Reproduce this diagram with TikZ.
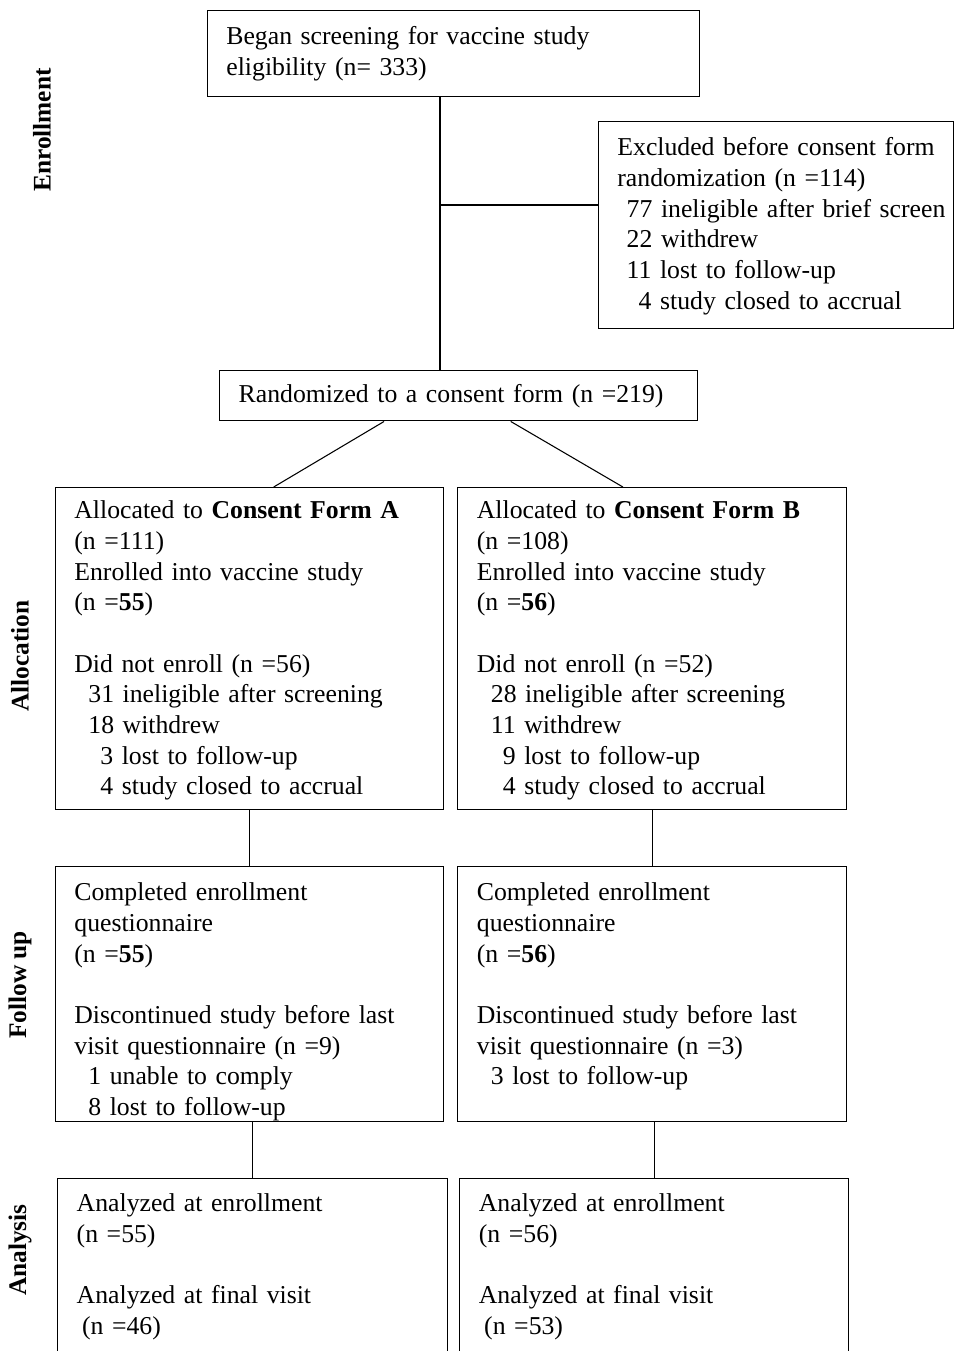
\documentclass[tikz,border=0pt]{standalone}
\usepackage{fontspec}
\setmainfont{Liberation Serif}
\usetikzlibrary{positioning}

\begin{document}
\begin{tikzpicture}[
  x=0.75pt,y=-0.75pt,
  box/.style={draw,line width=1.1pt,anchor=north west,align=left,
              inner xsep=14pt,inner ysep=0pt,
              font=\fontsize{19.3}{23}\selectfont},
  stage/.style={rotate=90,font=\fontsize{19}{22}\selectfont\bfseries},
  link/.style={line width=0.8pt}
]

  % page frame
  \clip (0,0) rectangle (955,1351);

  %% ===== ENROLLMENT =====
  \node[box,minimum width=369pt,text width=341pt,text height=25.5pt,text depth=39pt] (began) at (207,10)
    {Began screening for vaccine study\\eligibility (n= 333)};

  \node[box,minimum width=266pt,text width=238pt,text height=25.5pt,text depth=129.75pt] (excl) at (598,121)
    {Excluded before consent form\\randomization (n =114)\\
     \hspace*{7pt}\mbox{77 ineligible after brief screen}\\
     \hspace*{7pt}22 withdrew\\
     \hspace*{7pt}11 lost to follow-up\\
     \hspace*{16pt}4 study closed to accrual};

  \node[box,minimum width=358.5pt,text width=330pt,text height=24pt,text depth=13.5pt] (rand) at (219,370)
    {Randomized to a consent form (n =219)};

  % spine and side branch
  \coordinate (spine) at (440,205);
  \draw[link] (began.south -| spine) -- (rand.north -| spine);
  \draw[link] (spine) -- (spine -| excl.west);

  %% ===== ALLOCATION =====
  \node[box,minimum width=291pt,text width=263pt,text height=23.25pt,text depth=218.25pt] (allocA) at (55,487)
    {Allocated to \textbf{Consent Form A}\\(n =111)\\
     Enrolled into vaccine study\\(n =\textbf{55})\\[23pt]
     Did not enroll (n =56)\\
     \hspace*{10.5pt}31 ineligible after screening\\
     \hspace*{10.5pt}18 withdrew\\
     \hspace*{19.5pt}3 lost to follow-up\\
     \hspace*{19.5pt}4 study closed to accrual};

  \node[box,minimum width=291.75pt,text width=263pt,text height=23.25pt,text depth=218.25pt] (allocB) at (457,487)
    {Allocated to \textbf{Consent Form B}\\(n =108)\\
     Enrolled into vaccine study\\(n =\textbf{56})\\[23pt]
     Did not enroll (n =52)\\
     \hspace*{10.5pt}28 ineligible after screening\\
     \hspace*{10.5pt}11 withdrew\\
     \hspace*{19.5pt}9 lost to follow-up\\
     \hspace*{19.5pt}4 study closed to accrual};

  \draw[link] ([xshift=-56pt]rand.south) -- ([xshift=18pt]allocA.north);
  \draw[link] ([xshift=39pt]rand.south) -- ([xshift=-22pt]allocB.north);

  %% ===== FOLLOW UP =====
  \node[box,minimum width=291pt,text width=263pt,text height=25.5pt,text depth=165.75pt] (folA) at (55,866)
    {Completed enrollment\\questionnaire\\(n =\textbf{55})\\[23pt]
     Discontinued study before last\\visit questionnaire (n =9)\\
     \hspace*{10.5pt}1 unable to comply\\
     \hspace*{10.5pt}8 lost to follow-up};

  \node[box,minimum width=291.75pt,text width=263pt,text height=25.5pt,text depth=165.75pt] (folB) at (457,866)
    {Completed enrollment\\questionnaire\\(n =\textbf{56})\\[23pt]
     Discontinued study before last\\visit questionnaire (n =3)\\
     \hspace*{10.5pt}3 lost to follow-up};

  \draw[link] (allocA) -- (folA);
  \draw[link] (allocB) -- (folB);

  %% ===== ANALYSIS =====
  \node[box,minimum width=292.5pt,text width=264pt,text height=24.75pt,text depth=186pt] (anaA) at (57,1178)
    {Analyzed at enrollment\\(n =55)\\[23pt]
     Analyzed at final visit\\\hspace*{4pt}(n =46)};

  \node[box,minimum width=291.75pt,text width=263pt,text height=24.75pt,text depth=186pt] (anaB) at (459,1178)
    {Analyzed at enrollment\\(n =56)\\[23pt]
     Analyzed at final visit\\\hspace*{4pt}(n =53)};

  \draw[link] (anaA.north |- folA.south) -- (anaA.north);
  \draw[link] (anaB.north |- folB.south) -- (anaB.north);

  % stage labels
  \node[stage] (lblEnrol) at (42,130) {Enrollment};
  \node[stage] (lblAlloc) at (20,656) {Allocation};
  \node[stage] (lblFollow) at (20,985) {Follow up};
  \node[stage] (lblAnal) at (20,1250) {Analysis};

\end{tikzpicture}
\end{document}
